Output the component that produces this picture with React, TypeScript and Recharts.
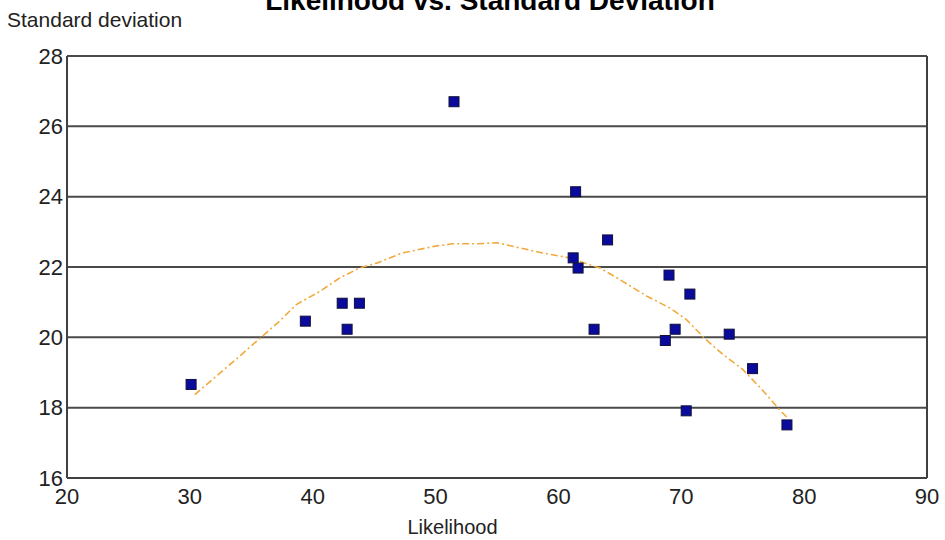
import React from "react";
import { ScatterChart, Scatter, XAxis, YAxis, CartesianGrid, ReferenceLine } from "recharts";

const likelihood = [30.1, 39.4, 42.4, 42.8, 43.8, 51.5, 61.4, 61.2, 61.6, 62.9, 64.0, 68.7, 69.0, 69.5, 70.4, 70.7, 73.9, 75.8, 78.6];
const stdDev = [18.66, 20.46, 20.97, 20.23, 20.97, 26.7, 24.14, 22.26, 21.97, 20.23, 22.77, 19.91, 21.77, 20.23, 17.91, 21.23, 20.09, 19.11, 17.51];

const trendX = [30.4, 32.4, 34.2, 35.7, 37.3, 38.7, 40.6, 42.2, 43.8, 45.2, 47.3, 50.1, 51.4, 53.4, 55.0, 56.9, 58.7, 60.9, 62.3, 63.4, 65.2, 67.2, 69.1, 70.4, 71.9, 73.4, 75.0, 76.5, 78.0, 78.7];
const trendY = [18.37, 18.97, 19.51, 19.97, 20.46, 20.94, 21.31, 21.69, 21.97, 22.11, 22.4, 22.6, 22.66, 22.66, 22.69, 22.54, 22.4, 22.26, 22.09, 21.97, 21.6, 21.17, 20.83, 20.51, 19.97, 19.51, 19.09, 18.54, 17.94, 17.69];

const xTicks = [20, 30, 40, 50, 60, 70, 80, 90];
const yTicks = [16, 18, 20, 22, 24, 26, 28];

const points = likelihood.map((x, i) => ({ x, y: stdDev[i] }));
const trend = trendX.map((x, i) => ({ x, y: trendY[i] }));

const FONT = "'Liberation Sans', Arial, sans-serif";

const SquareMarker = (props: any) => {
  const { cx, cy } = props;
  if (cx == null || cy == null) return <g />;
  return <rect x={cx - 5} y={cy - 5} width={10} height={10} fill="#0a0a9c" stroke="#10103a" strokeWidth={1} />;
};

const NoMarker = () => <g />;

export default function App() {
  return (
    <div style={{ position: "absolute", left: 0, top: 0, width: 945, height: 540, background: "#fff", fontFamily: FONT }}>
      <div style={{ position: "absolute", left: 0, width: 980, top: -15, textAlign: "center", fontWeight: "bold", fontSize: 28, color: "#000", whiteSpace: "nowrap" }}>
        Likelihood vs. Standard Deviation
      </div>
      <div style={{ position: "absolute", left: 7, top: 8, fontSize: 21, color: "#222", whiteSpace: "nowrap" }}>
        Standard deviation
      </div>
      <div style={{ position: "absolute", left: 0, width: 905, top: 516, textAlign: "center", fontSize: 20, color: "#222", whiteSpace: "nowrap" }}>
        Likelihood
      </div>
      <ScatterChart width={945} height={540} margin={{ top: 56, right: 18, left: 0, bottom: 0 }}>
        <CartesianGrid vertical={false} stroke="#4a4a4a" strokeWidth={2} />
        <XAxis
          type="number"
          dataKey="x"
          domain={[20, 90]}
          ticks={xTicks}
          height={62}
          tickLine={false}
          tickSize={0}
          tickMargin={10}
          axisLine={{ stroke: "#404040", strokeWidth: 2 }}
          tick={{ fill: "#222", fontSize: 22, fontFamily: FONT }}
          allowDataOverflow
        />
        <YAxis
          type="number"
          dataKey="y"
          domain={[16, 28]}
          ticks={yTicks}
          width={67}
          tickLine={false}
          tickSize={0}
          tickMargin={4}
          axisLine={{ stroke: "#404040", strokeWidth: 2 }}
          tick={{ fill: "#222", fontSize: 22, fontFamily: FONT }}
          allowDataOverflow
        />
        <ReferenceLine x={90} stroke="#404040" strokeWidth={2} />
        <Scatter
          data={trend}
          line={{ stroke: "#f2a93b", strokeWidth: 1.6, strokeDasharray: "7 3 2 3" }}
          lineType="joint"
          shape={NoMarker}
          isAnimationActive={false}
        />
        <Scatter data={points} shape={SquareMarker} isAnimationActive={false} />
      </ScatterChart>
    </div>
  );
}
